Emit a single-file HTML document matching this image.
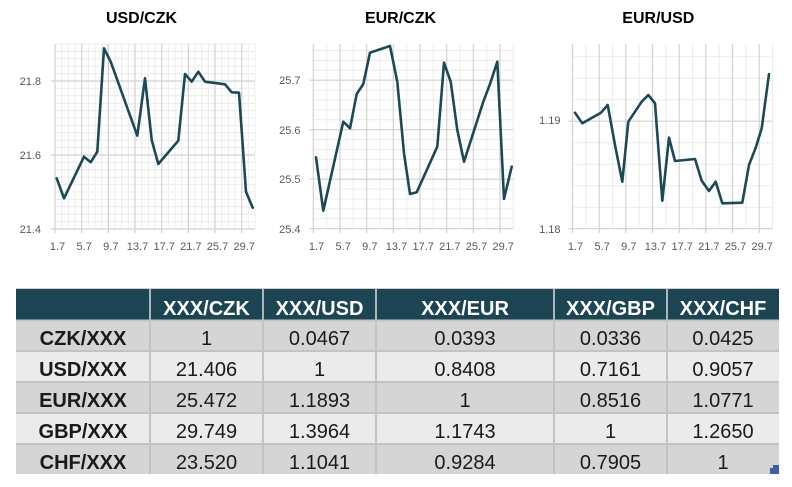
<!DOCTYPE html>
<html><head><meta charset="utf-8"><style>
html,body{margin:0;padding:0;background:#fff;}
svg{display:block;}
text{font-family:"Liberation Sans",sans-serif;}
</style></head><body>
<svg width="792" height="487" viewBox="0 0 792 487" xmlns="http://www.w3.org/2000/svg">
<rect width="792" height="487" fill="#fff"/>

<!-- Titles -->
<g font-weight="bold" font-size="16" fill="#000" text-anchor="middle">
<text x="141.5" y="23">USD/CZK</text>
<text x="400.5" y="23">EUR/CZK</text>
<text x="658.3" y="23">EUR/USD</text>
</g>

<!-- ===== Chart 1 ===== -->
<g stroke="#ececec" stroke-width="1" fill="none">
<path d="M61.67 44V229M68.33 44V229M75 44V229M88.33 44V229M95 44V229M101.67 44V229M115 44V229M121.67 44V229M128.33 44V229M141.67 44V229M148.33 44V229M155 44V229M168.33 44V229M175 44V229M181.67 44V229M195 44V229M201.67 44V229M208.33 44V229M221.67 44V229M228.33 44V229M235 44V229M248.33 44V229M255 44V229"/>
<path d="M55 221.6H255M55 214.2H255M55 206.8H255M55 199.4H255M55 192H255M55 184.6H255M55 177.2H255M55 169.8H255M55 162.4H255M55 147.6H255M55 140.2H255M55 132.8H255M55 125.4H255M55 118H255M55 110.6H255M55 103.2H255M55 95.8H255M55 88.4H255M55 73.6H255M55 66.2H255M55 58.8H255M55 51.4H255M55 44H255"/>
</g>
<g stroke="#d2d2d2" stroke-width="1.2" fill="none">
<path d="M55 44V233M81.67 44V233M108.33 44V233M135 44V233M161.67 44V233M188.33 44V233M215 44V233M241.67 44V233"/>
<path d="M51 229H255M51 155H255M51 81H255"/>
</g>
<polyline fill="none" stroke="#1b4a57" stroke-width="2.6" stroke-linejoin="round" stroke-linecap="round"
points="56.7,178.3 64,198.3 84,156.7 90.7,162.3 97.3,151.7 104,48.3 110.7,61.7 137.3,135.7 145,78.3 151.7,140 158.3,164 178.3,140.7 185,74 191.7,81.7 198.3,71.7 205,81.7 225,84.3 231.7,92.3 239,92.7 246,191.7 252.7,207.7"/>
<g font-size="11" fill="#595959" text-anchor="end">
<text x="41" y="85">21.8</text>
<text x="41" y="159">21.6</text>
<text x="41" y="233">21.4</text>
</g>
<g font-size="11" fill="#595959" text-anchor="middle">
<text x="57.5" y="250">1.7</text>
<text x="84.2" y="250">5.7</text>
<text x="110.8" y="250">9.7</text>
<text x="137.5" y="250">13.7</text>
<text x="164.2" y="250">17.7</text>
<text x="190.8" y="250">21.7</text>
<text x="217.5" y="250">25.7</text>
<text x="244.2" y="250">29.7</text>
</g>

<!-- ===== Chart 2 ===== -->
<g stroke="#ececec" stroke-width="1" fill="none">
<path d="M326.7 44V228.7M353.3 44V228.7M380 44V228.7M406.7 44V228.7M433.3 44V228.7M460 44V228.7M486.7 44V228.7M513.3 44V228.7"/>
<path d="M313.3 218.8H513.3M313.3 208.9H513.3M313.3 199H513.3M313.3 189.1H513.3M313.3 169.3H513.3M313.3 159.4H513.3M313.3 149.5H513.3M313.3 139.6H513.3M313.3 119.8H513.3M313.3 109.9H513.3M313.3 100H513.3M313.3 90.1H513.3M313.3 70.3H513.3M313.3 60.4H513.3M313.3 50.5H513.3"/>
</g>
<g stroke="#d2d2d2" stroke-width="1.2" fill="none">
<path d="M313.3 44V233M340 44V233M366.7 44V233M393.3 44V233M420 44V233M446.7 44V233M473.3 44V233M500 44V233"/>
<path d="M309.3 228.7H513.3M309.3 179.2H513.3M309.3 129.7H513.3M309.3 80.2H513.3"/>
</g>
<polyline fill="none" stroke="#1b4a57" stroke-width="2.6" stroke-linejoin="round" stroke-linecap="round"
points="316,157.3 323.3,210.7 343.3,121.7 350,128.3 356.7,94 363.3,84 370,52.7 390,46 397.3,81.7 404,153.3 410,194 416.7,192.3 437.3,146.7 444,62.7 450.7,81.7 457.3,130 464,161.7 483.3,101.7 490,84 497.3,61.7 504,199 511.7,166.7"/>
<g font-size="11" fill="#595959" text-anchor="end">
<text x="300.5" y="84">25.7</text>
<text x="300.5" y="134">25.6</text>
<text x="300.5" y="183">25.5</text>
<text x="300.5" y="233">25.4</text>
</g>
<g font-size="11" fill="#595959" text-anchor="middle">
<text x="316.5" y="250">1.7</text>
<text x="343.2" y="250">5.7</text>
<text x="369.8" y="250">9.7</text>
<text x="396.5" y="250">13.7</text>
<text x="423.2" y="250">17.7</text>
<text x="449.8" y="250">21.7</text>
<text x="476.5" y="250">25.7</text>
<text x="503.2" y="250">29.7</text>
</g>

<!-- ===== Chart 3 ===== -->
<g stroke="#ececec" stroke-width="1" fill="none">
<path d="M585.8 44V228.7M612.5 44V228.7M639.2 44V228.7M665.8 44V228.7M692.5 44V228.7M719.2 44V228.7M745.8 44V228.7M772.5 44V228.7"/>
<path d="M572.5 207.2H772.5M572.5 185.7H772.5M572.5 164.2H772.5M572.5 142.7H772.5M572.5 99.7H772.5M572.5 78.2H772.5M572.5 56.7H772.5"/>
</g>
<g stroke="#d2d2d2" stroke-width="1.2" fill="none">
<path d="M572.5 44V233M599.2 44V233M625.8 44V233M652.5 44V233M679.2 44V233M705.8 44V233M732.5 44V233M759.2 44V233"/>
<path d="M568.5 228.7H772.5M568.5 121.2H772.5"/>
</g>
<polyline fill="none" stroke="#1b4a57" stroke-width="2.6" stroke-linejoin="round" stroke-linecap="round"
points="575,112.7 582.3,123.3 601,112.7 607.7,105 615,145 622.3,181.7 628.3,121.7 641.7,101.7 648.3,95 655,103.3 662.3,200.7 669,137.7 675,161 695,159 701.7,180.7 709,191 715.7,181.7 722.3,203.3 742.3,202.7 749,165 755.7,147.7 761.7,128.3 769,74"/>
<g font-size="11" fill="#595959" text-anchor="end">
<text x="560.5" y="124">1.19</text>
<text x="560.5" y="233">1.18</text>
</g>
<g font-size="11" fill="#595959" text-anchor="middle">
<text x="575.5" y="250">1.7</text>
<text x="602.2" y="250">5.7</text>
<text x="628.8" y="250">9.7</text>
<text x="655.5" y="250">13.7</text>
<text x="682.2" y="250">17.7</text>
<text x="708.8" y="250">21.7</text>
<text x="735.5" y="250">25.7</text>
<text x="762.2" y="250">29.7</text>
</g>

<!-- ===== Table ===== -->
<rect x="16" y="288" width="763" height="1.5" fill="#cfcfcf"/>
<rect x="16" y="289" width="763" height="31" fill="#1c4553"/>
<rect x="16" y="320" width="763" height="31" fill="#d5d5d5"/>
<rect x="16" y="351" width="763" height="31" fill="#ebebeb"/>
<rect x="16" y="382" width="763" height="31" fill="#d5d5d5"/>
<rect x="16" y="413" width="763" height="31" fill="#ebebeb"/>
<rect x="16" y="444" width="763" height="30" fill="#d5d5d5"/>
<g stroke="#a7b7bc" stroke-width="2">
<path d="M150 289V320M263 289V320M376 289V320M554 289V320M667 289V320"/>
</g>
<g stroke="#c3c3c3" stroke-width="2">
<path d="M150 320V474M263 320V474M376 320V474M554 320V474M667 320V474"/>
<path d="M16 320.5H779M16 351H779M16 382H779M16 413H779M16 444H779"/>
</g>

<g font-size="20" font-weight="bold" fill="#ffffff" text-anchor="middle">
<text x="206.5" y="315">XXX/CZK</text>
<text x="319.5" y="315">XXX/USD</text>
<text x="465" y="315">XXX/EUR</text>
<text x="610.5" y="315">XXX/GBP</text>
<text x="723" y="315">XXX/CHF</text>
</g>
<g font-size="20" font-weight="bold" fill="#1a1a1a" text-anchor="middle">
<text x="83" y="345">CZK/XXX</text>
<text x="83" y="376">USD/XXX</text>
<text x="83" y="407">EUR/XXX</text>
<text x="83" y="438">GBP/XXX</text>
<text x="83" y="469">CHF/XXX</text>
</g>
<g font-size="20" fill="#1a1a1a" text-anchor="middle">
<text x="206.5" y="345">1</text>
<text x="319.5" y="345">0.0467</text>
<text x="465" y="345">0.0393</text>
<text x="610.5" y="345">0.0336</text>
<text x="723" y="345">0.0425</text>

<text x="206.5" y="376">21.406</text>
<text x="319.5" y="376">1</text>
<text x="465" y="376">0.8408</text>
<text x="610.5" y="376">0.7161</text>
<text x="723" y="376">0.9057</text>

<text x="206.5" y="407">25.472</text>
<text x="319.5" y="407">1.1893</text>
<text x="465" y="407">1</text>
<text x="610.5" y="407">0.8516</text>
<text x="723" y="407">1.0771</text>

<text x="206.5" y="438">29.749</text>
<text x="319.5" y="438">1.3964</text>
<text x="465" y="438">1.1743</text>
<text x="610.5" y="438">1</text>
<text x="723" y="438">1.2650</text>

<text x="206.5" y="469">23.520</text>
<text x="319.5" y="469">1.1041</text>
<text x="465" y="469">0.9284</text>
<text x="610.5" y="469">0.7905</text>
<text x="723" y="469">1</text>
</g>
<path d="M773 465H779V474H770V468H773Z" fill="#3b5fa8"/>
</svg>
</body></html>
